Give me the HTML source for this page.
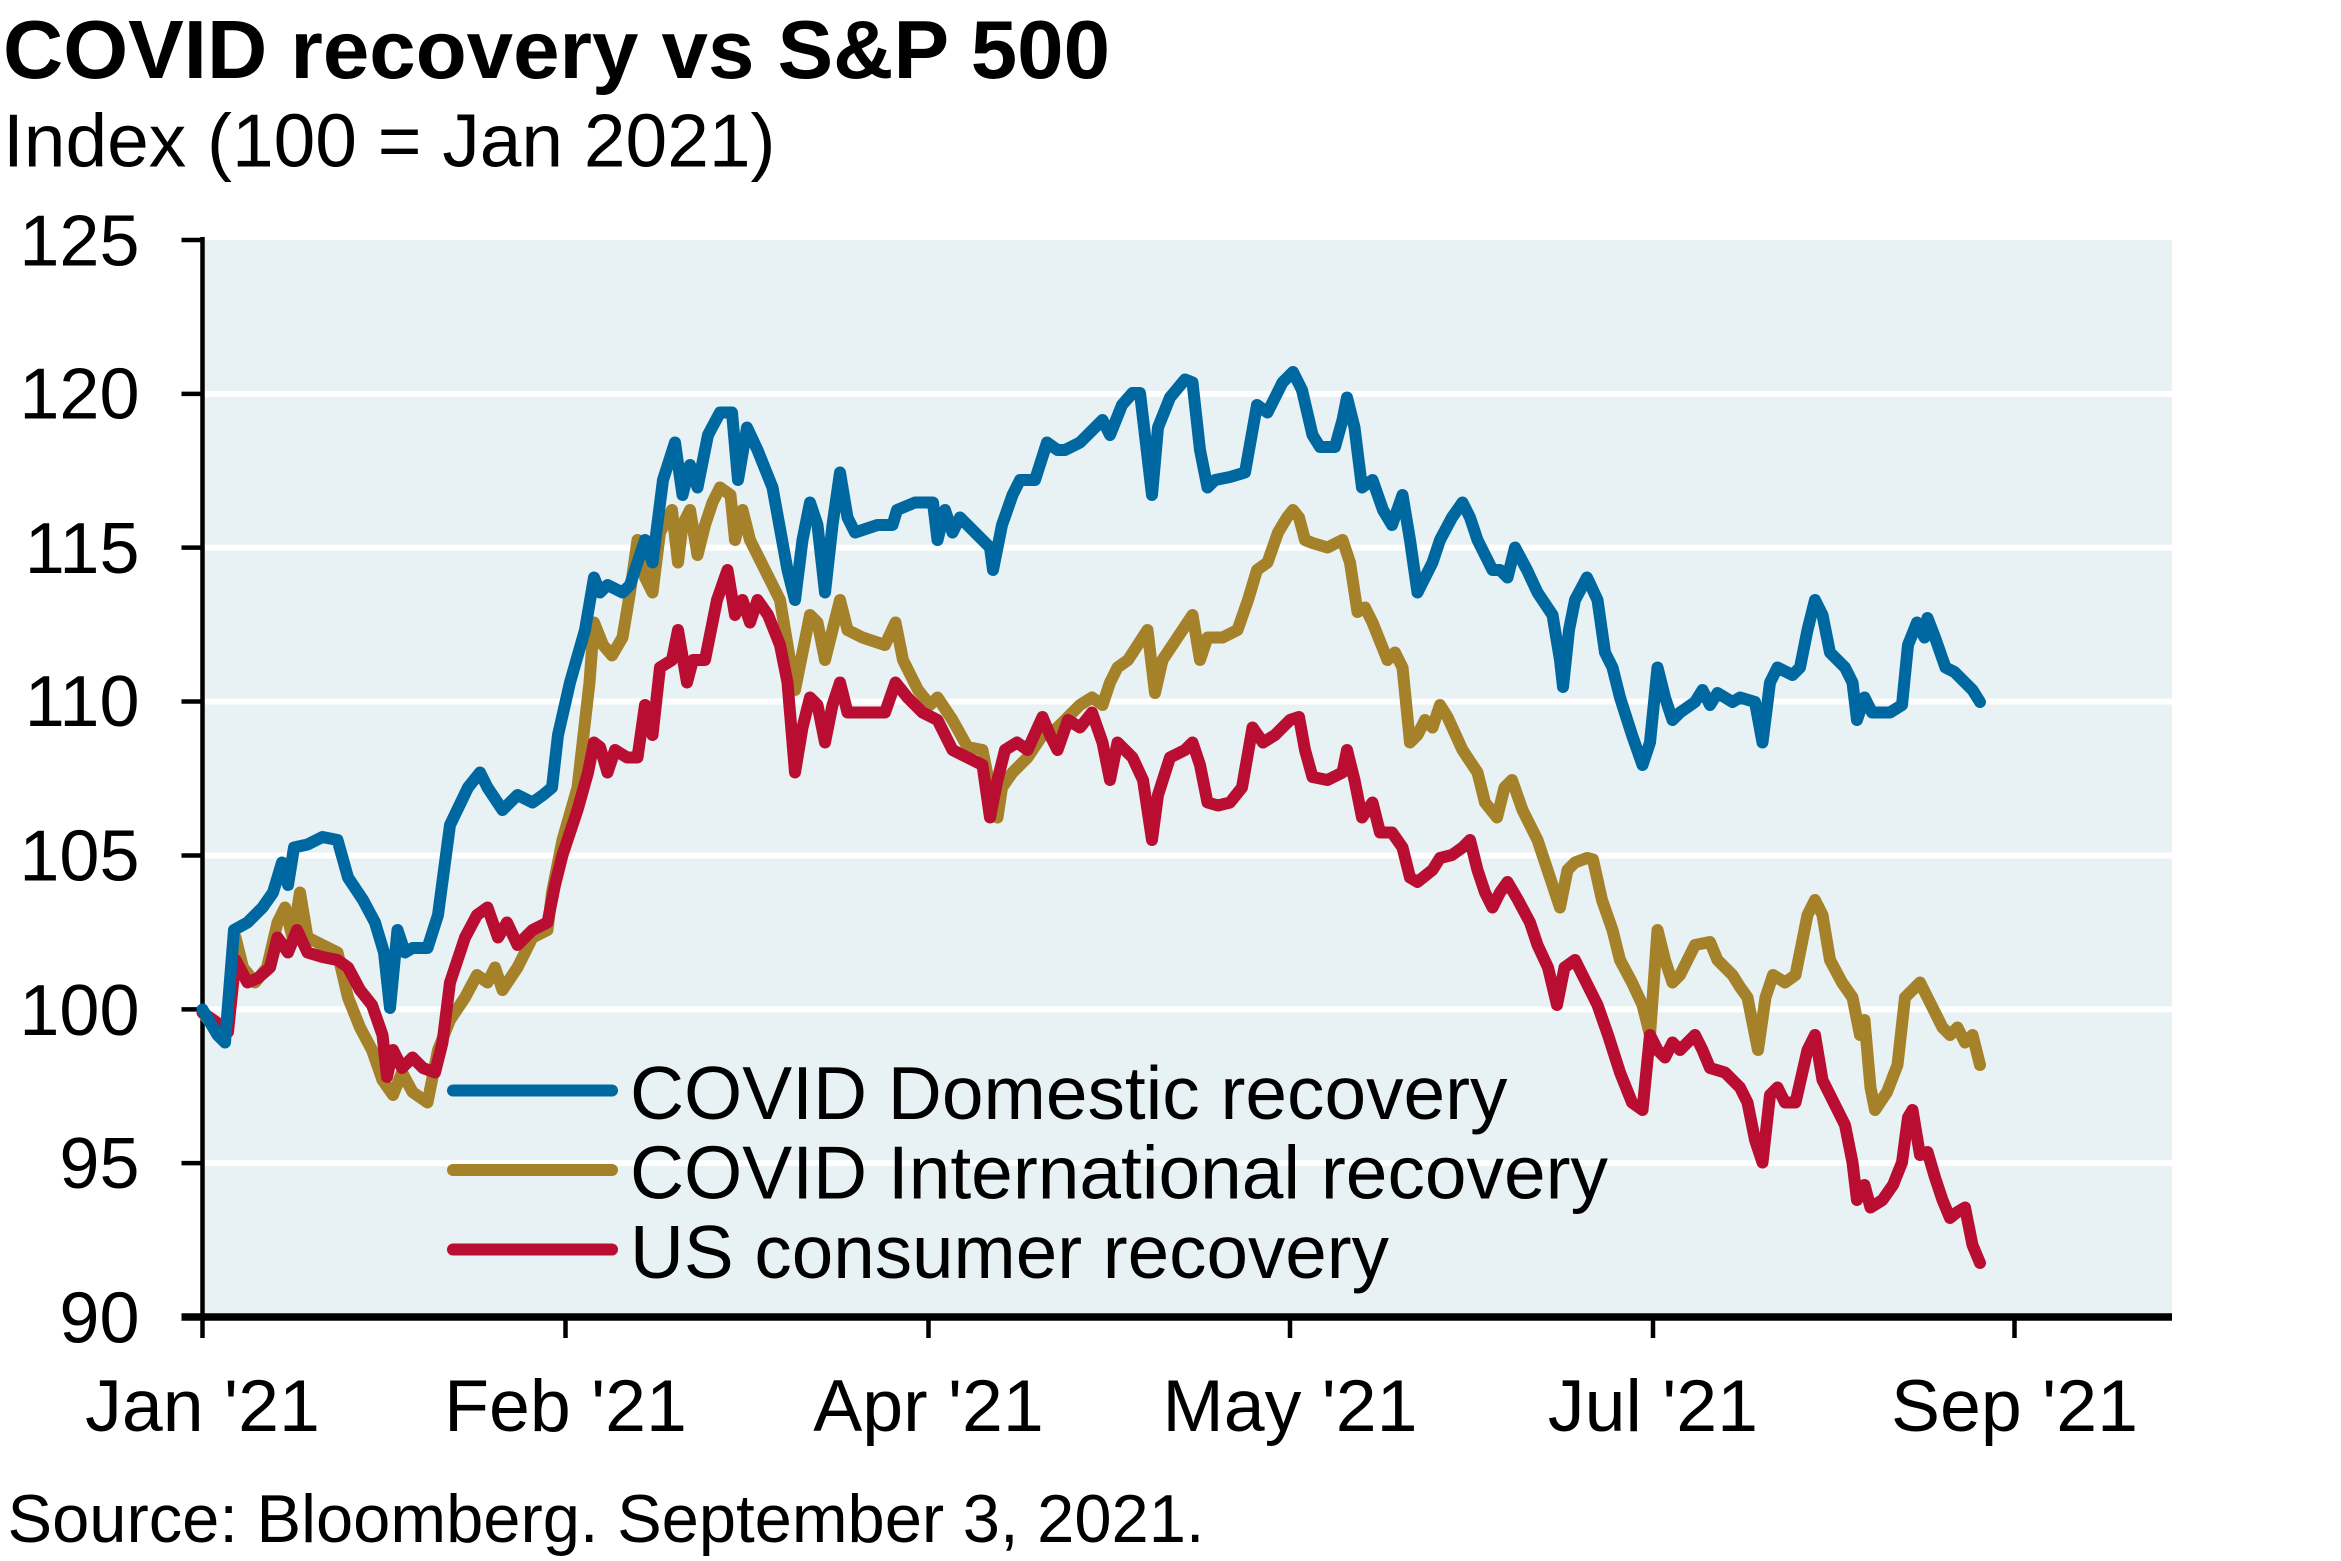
<!DOCTYPE html>
<html><head><meta charset="utf-8"><style>
html,body{margin:0;padding:0;background:#fff}
svg{display:block}
text{font-family:"Liberation Sans",Arial,sans-serif;fill:#000}
</style></head><body>
<svg width="2341" height="1561" viewBox="0 0 1560.67 1040.67" preserveAspectRatio="none" xmlns="http://www.w3.org/2000/svg">
<rect x="0" y="0" width="1560.67" height="1040.67" fill="#fff"/>
<text x="2" y="52" font-size="55" font-weight="bold" textLength="738" lengthAdjust="spacingAndGlyphs">COVID recovery vs S&amp;P 500</text>
<text x="2" y="111" font-size="50" textLength="515" lengthAdjust="spacingAndGlyphs">Index (100 = Jan 2021)</text>
<rect x="135" y="160" width="1313" height="718" fill="#e8f1f3"/>
<g stroke="#fff" stroke-width="4">
<line x1="135" x2="1448" y1="262.6" y2="262.6"/>
<line x1="135" x2="1448" y1="365.1" y2="365.1"/>
<line x1="135" x2="1448" y1="467.7" y2="467.7"/>
<line x1="135" x2="1448" y1="570.3" y2="570.3"/>
<line x1="135" x2="1448" y1="672.9" y2="672.9"/>
<line x1="135" x2="1448" y1="775.4" y2="775.4"/>
</g>
<g stroke="#000" stroke-width="3">
<line x1="135" y1="158" x2="135" y2="878"/>
<line x1="121" x2="135" y1="160" y2="160"/><line x1="121" x2="135" y1="262.6" y2="262.6"/>
<line x1="121" x2="135" y1="365.1" y2="365.1"/><line x1="121" x2="135" y1="467.7" y2="467.7"/>
<line x1="121" x2="135" y1="570.3" y2="570.3"/><line x1="121" x2="135" y1="672.9" y2="672.9"/>
<line x1="121" x2="135" y1="775.4" y2="775.4"/><line x1="121" x2="135" y1="878" y2="878"/>
<line x1="135" x2="135" y1="878" y2="892"/><line x1="377" x2="377" y1="878" y2="892"/>
<line x1="619" x2="619" y1="878" y2="892"/><line x1="860" x2="860" y1="878" y2="892"/>
<line x1="1102" x2="1102" y1="878" y2="892"/><line x1="1343" x2="1343" y1="878" y2="892"/>
</g>
<line x1="121" x2="1448" y1="878" y2="878" stroke="#000" stroke-width="5"/>
<g font-size="48" text-anchor="end">
<text x="93" y="177">125</text><text x="93" y="279">120</text><text x="93" y="382">115</text>
<text x="93" y="484">110</text><text x="93" y="587">105</text><text x="93" y="690">100</text>
<text x="93" y="792">95</text><text x="93" y="895">90</text>
</g>
<g font-size="49" text-anchor="middle">
<text x="135" y="954">Jan '21</text><text x="377" y="954">Feb '21</text><text x="619" y="954">Apr '21</text>
<text x="860" y="954">May '21</text><text x="1102" y="954">Jul '21</text><text x="1343" y="954">Sep '21</text>
</g>
<text x="5" y="1028" font-size="45" textLength="798" lengthAdjust="spacingAndGlyphs">Source: Bloomberg. September 3, 2021.</text>
<g fill="none" stroke-width="8" stroke-linejoin="round" stroke-linecap="round">
<polyline stroke="#a5812a" points="135,675 145,688 152,685 157,625 162,645 170,655 178,645 185,615 190,605 195,625 200,595 205,625 215,630 225,635 232,665 240,685 248,700 255,720 262,730 268,715 275,728 285,735 292,700 300,680 310,665 318,650 325,655 330,645 335,660 345,645 355,625 365,620 368,595 375,560 385,525 393,455 396,415 402,430 408,437 415,425 420,395 425,360 430,385 435,395 440,355 448,340 452,375 455,350 460,340 465,370 470,350 475,335 480,325 487,330 490,360 495,340 500,360 510,380 520,400 525,430 530,460 535,435 540,410 545,415 550,440 555,420 560,400 565,420 575,425 590,430 597,415 602,440 612,460 620,470 625,465 635,480 645,498 655,500 660,525 665,545 668,525 675,515 685,505 695,490 700,490 710,480 720,470 728,465 735,470 740,455 745,445 752,440 765,420 770,462 775,440 785,425 795,410 800,440 805,425 815,425 825,420 832,400 838,380 845,375 852,355 858,345 862,340 866,345 870,360 875,362 885,365 895,360 900,375 905,408 910,405 915,415 925,440 930,435 935,445 940,495 945,490 950,480 955,485 960,470 965,478 975,500 985,515 990,535 998,545 1003,525 1008,520 1015,540 1025,560 1035,590 1040,605 1045,580 1050,575 1058,572 1062,573 1068,600 1075,620 1080,640 1088,655 1095,670 1100,690 1105,620 1110,640 1115,655 1120,650 1125,640 1130,630 1140,628 1145,640 1155,650 1160,658 1165,665 1172,700 1177,665 1182,650 1190,655 1197,650 1205,610 1210,600 1215,610 1220,640 1228,655 1235,665 1240,690 1243,680 1247,725 1250,740 1258,728 1265,710 1270,665 1275,660 1280,655 1285,665 1290,675 1295,685 1300,690 1305,685 1310,695 1315,690 1320,710"/>
<polyline stroke="#b90e32" points="135,675 145,682 152,688 157,640 165,655 172,652 180,645 185,625 192,635 198,620 205,635 215,638 225,640 232,645 240,660 248,670 255,690 258,718 262,700 268,712 275,705 282,712 290,715 295,695 300,655 310,625 318,610 325,605 332,625 338,615 345,630 355,620 365,615 370,590 375,570 385,540 392,515 396,495 400,498 405,515 410,500 418,505 425,505 430,470 435,490 440,445 448,440 452,420 458,455 462,440 470,440 478,400 485,380 490,410 495,400 500,415 505,400 512,410 520,430 525,455 530,515 535,485 540,465 545,470 550,495 555,470 560,455 565,475 575,475 590,475 597,455 605,465 615,475 625,480 630,490 635,500 645,505 655,510 660,545 665,520 670,500 678,495 685,500 695,478 700,490 705,500 712,480 720,485 728,475 735,495 740,520 745,495 755,505 762,520 768,560 772,530 780,505 790,500 795,495 800,510 805,535 812,537 820,535 828,525 835,485 842,495 850,490 860,480 866,478 870,500 875,518 885,520 895,515 898,500 903,520 908,545 915,535 920,555 928,555 935,565 940,585 945,588 955,580 960,572 968,570 975,565 980,560 985,580 990,595 995,605 1000,595 1005,588 1012,600 1020,615 1025,630 1032,645 1038,670 1043,645 1050,640 1055,650 1060,660 1065,670 1072,690 1080,715 1088,735 1095,740 1100,690 1105,700 1110,705 1115,695 1120,700 1125,695 1130,690 1135,700 1140,712 1150,715 1160,725 1165,735 1170,760 1175,775 1180,730 1185,725 1190,735 1197,735 1205,700 1210,690 1215,720 1220,730 1225,740 1230,750 1235,775 1238,800 1243,790 1247,805 1255,800 1262,790 1268,775 1272,745 1275,740 1280,770 1285,768 1290,785 1295,800 1300,812 1305,808 1310,805 1315,830 1320,842"/>
<polyline stroke="#0068a0" points="135,673 145,690 150,695 156,620 165,615 175,605 182,595 188,575 192,590 196,565 205,563 215,558 225,560 232,585 242,600 250,615 256,635 260,672 265,620 270,635 275,632 285,632 292,610 300,550 312,525 320,515 325,525 335,540 345,530 355,535 362,530 368,525 372,490 380,455 390,420 396,385 400,395 405,390 415,395 420,390 430,360 435,375 442,320 450,295 455,330 460,310 465,325 472,290 480,275 488,275 492,320 498,285 505,300 515,325 525,380 530,400 535,360 540,335 545,350 550,395 555,350 560,315 565,345 570,355 585,350 595,350 598,340 610,335 622,335 625,360 630,340 635,355 640,345 650,355 660,365 662,380 668,350 675,330 680,320 690,320 698,295 705,300 710,300 720,295 730,285 735,280 740,290 748,270 755,262 760,262 768,330 772,285 780,265 790,253 795,255 800,300 805,325 810,320 820,318 830,315 838,270 845,275 855,255 862,248 868,260 875,290 880,298 890,298 895,280 898,265 903,285 908,325 915,320 922,340 928,350 935,330 940,360 945,395 950,385 955,375 960,360 968,345 975,335 980,345 985,360 995,380 1000,380 1005,385 1010,365 1018,380 1025,395 1035,410 1040,440 1042,458 1046,420 1050,400 1058,385 1065,400 1070,435 1075,445 1080,465 1088,490 1095,510 1100,495 1105,445 1110,465 1115,480 1120,475 1130,468 1135,460 1140,470 1145,462 1155,468 1160,465 1170,468 1175,495 1180,455 1185,445 1195,450 1200,445 1205,420 1210,400 1215,410 1220,435 1225,440 1230,445 1235,455 1238,480 1243,465 1248,475 1260,475 1268,470 1272,430 1278,415 1283,425 1285,412 1290,425 1297,445 1303,448 1310,455 1315,460 1320,468"/>
</g>
<g stroke-width="8" stroke-linecap="round">
<line x1="302" x2="408" y1="727" y2="727" stroke="#0068a0"/>
<line x1="302" x2="408" y1="780" y2="780" stroke="#a5812a"/>
<line x1="302" x2="408" y1="833" y2="833" stroke="#b90e32"/>
</g>
<g font-size="50">
<text x="420" y="746" textLength="585" lengthAdjust="spacingAndGlyphs">COVID Domestic recovery</text>
<text x="420" y="799" textLength="652" lengthAdjust="spacingAndGlyphs">COVID International recovery</text>
<text x="420" y="852" textLength="506" lengthAdjust="spacingAndGlyphs">US consumer recovery</text>
</g>
</svg>
</body></html>
